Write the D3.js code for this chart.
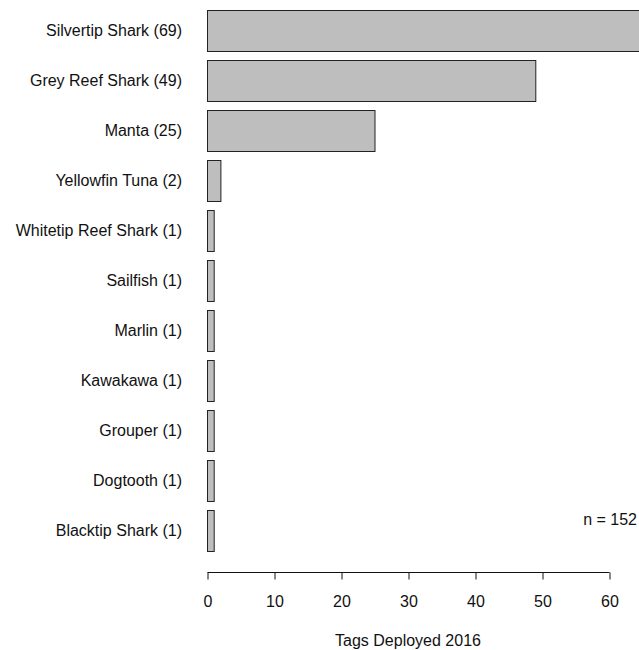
<!DOCTYPE html>
<html>
<head>
<meta charset="utf-8">
<script src="https://cdn.jsdelivr.net/npm/d3@7"></script>
<style>
  html, body { margin: 0; padding: 0; background: #fff; }
  svg { display: block; font-family: "Liberation Sans", Arial, Helvetica, sans-serif; }
</style>
</head>
<body>
<svg id="chart" width="639" height="650"></svg>
<script>
// Tags deployed in 2016, by species
const species = [
  "Silvertip Shark", "Grey Reef Shark", "Manta", "Yellowfin Tuna",
  "Whitetip Reef Shark", "Sailfish", "Marlin", "Kawakawa",
  "Grouper", "Dogtooth", "Blacktip Shark"
];
const tagCounts = [69, 49, 25, 2, 1, 1, 1, 1, 1, 1, 1];
const xTicks = [0, 10, 20, 30, 40, 50, 60];
const totalTags = 152;
const xTitle = "Tags Deployed 2016";

const fontSize = 16;
const svg = d3.select("#chart");

const x = d3.scaleLinear().domain([0, 60]).range([207, 609]);
const y = d3.scaleBand()
  .domain(species)
  .range([5, 555])
  .paddingInner(0.18)
  .paddingOuter(0.09);

const data = species.map((s, i) => ({ name: s, value: tagCounts[i] }));

// Bars
svg.append("g")
  .selectAll("rect")
  .data(data)
  .join("rect")
  .attr("x", x(0) + 0.5)
  .attr("y", d => Math.round(y(d.name)) + 0.5)
  .attr("width", d => x(d.value) - x(0))
  .attr("height", Math.round(y.bandwidth()))
  .attr("fill", "#bebebe")
  .attr("stroke", "#222")
  .attr("stroke-width", 1);

// Category labels with counts
svg.append("g")
  .selectAll("text")
  .data(data)
  .join("text")
  .attr("x", 182)
  .attr("y", d => y(d.name) + y.bandwidth() / 2)
  .attr("dy", "0.36em")
  .attr("text-anchor", "end")
  .attr("font-size", fontSize)
  .attr("fill", "#111")
  .text(d => `${d.name} (${d.value})`);

// Bottom axis
const axis = svg.append("g")
  .attr("transform", "translate(0.5,572.5)")
  .call(d3.axisBottom(x).tickValues(xTicks).tickSize(7).tickPadding(16).tickFormat(d3.format("d")));
axis.select(".domain").attr("d", `M${x(0)},0H${x(60)}`).attr("stroke", "#111");
axis.selectAll(".tick line").attr("stroke", "#111");
axis.selectAll(".tick text")
  .attr("font-size", fontSize)
  .attr("font-family", "Liberation Sans, Arial, sans-serif")
  .attr("fill", "#111");

// Axis title
svg.append("text")
  .attr("x", (x(0) + x(60)) / 2)
  .attr("y", 646)
  .attr("text-anchor", "middle")
  .attr("font-size", fontSize)
  .attr("fill", "#111")
  .text(xTitle);

// Sample size note
svg.append("text")
  .attr("x", 637)
  .attr("y", 525)
  .attr("text-anchor", "end")
  .attr("font-size", fontSize)
  .attr("fill", "#111")
  .text(`n = ${totalTags}`);
</script>
</body>
</html>
